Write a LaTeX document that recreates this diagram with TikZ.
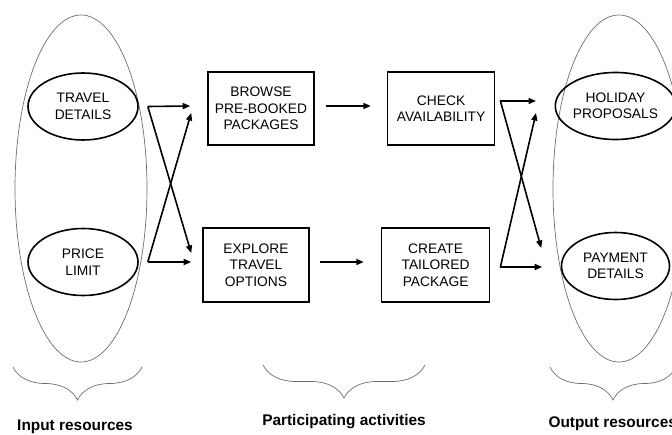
\documentclass[tikz,border=0pt]{standalone}
\usepackage{fontspec}
\setmainfont{Liberation Sans}
\usetikzlibrary{positioning,arrows.meta,shapes.geometric,decorations.pathreplacing}
\definecolor{rimgrey}{HTML}{6E6E6E}

\begin{document}
\begin{tikzpicture}[x=1pt,y=1pt, node distance=72pt, every node/.style={align=center,font=\fontsize{13.8}{16.5}\selectfont}, flow/.style={-{Triangle[length=7.5pt,width=6pt]},line width=1.6pt}, pool/.style={ellipse,draw=rimgrey,line width=.7pt,minimum width=132pt,minimum height=347pt,inner sep=0pt}, res/.style={ellipse,draw,line width=1.6pt,minimum width=110pt,minimum height=67pt,inner sep=0pt}, act/.style={rectangle,draw,line width=1.6pt,minimum width=106pt,minimum height=73pt,inner sep=0pt}, grp/.style={decorate,decoration={brace,mirror,amplitude=33pt},draw=rimgrey,line width=.7pt}, tag/.style={font=\bfseries\fontsize{15.4}{18}\selectfont}]
\path[use as bounding box,clip] (0,0) rectangle (672,434);
% resource pools
\node[pool] (inres) at (81,245.5) {};
\node[pool] (outres) at (619,245.5) {};
\node[res] (travel) at (83,327.5) {TRAVEL\\DETAILS};
\node[res] (price) at (83,172) {PRICE\\LIMIT};
\node[res,minimum width=108pt] (holiday) at (615.5,328) {HOLIDAY\\PROPOSALS};
\node[res,minimum width=108pt] (payment) at (615.5,168) {PAYMENT\\DETAILS};
% activities
\node[act] (browse) at (261,325.5) {BROWSE\\PRE-BOOKED\\PACKAGES};
\node[act,minimum width=107pt,right=of browse] (check) {CHECK\\AVAILABILITY};
\node[act,minimum height=74pt] (explore) at (256,169) {EXPLORE\\TRAVEL\\OPTIONS};
\node[act,minimum width=108pt,minimum height=74pt,right=71pt of explore] (create) {CREATE\\TAILORED\\PACKAGE};
% inputs to activities
\draw[flow] ([xshift=9pt]travel.east) -- ([xshift=-17pt,yshift=2.5pt]browse.west);
\draw[flow] ([xshift=9pt]travel.east) -- ([xshift=-11pt,yshift=12pt]explore.west);
\draw[flow] ([xshift=9pt]price.east) -- ([xshift=-11pt,yshift=3pt]explore.west);
\draw[flow] ([xshift=9pt]price.east) -- ([xshift=-16pt,yshift=-4.5pt]browse.west);
\draw[flow] ([xshift=11pt,yshift=2.5pt]browse.east) -- ([xshift=-16pt,yshift=2.5pt]check.west);
\draw[flow] ([xshift=10pt,yshift=3pt]explore.east) -- ([xshift=-17pt,yshift=3pt]create.west);
% activities to outputs
\draw[flow] ([xshift=5pt,yshift=7.5pt]check.east) -- ([xshift=-18.5pt,yshift=5pt]holiday.west);
\draw[flow] ([xshift=5pt,yshift=7.5pt]check.east) -- ([xshift=-19.5pt,yshift=18pt]payment.west);
\draw[flow] ([xshift=10pt,yshift=-2pt]create.east) -- ([xshift=-18.5pt,yshift=-1pt]payment.west);
\draw[flow] ([xshift=10pt,yshift=-2pt]create.east) -- ([xshift=-18.5pt,yshift=-7pt]holiday.west);
% braces and captions
\draw[grp] (13,67) -- (142,67);
\draw[grp] (263,69) -- (425,69);
\draw[grp] (550,67) -- (676,67);
\node[tag,anchor=base] (inlbl) at (75,4) {Input resources};
\node[tag,anchor=base] (actlbl) at (344,9) {Participating activities};
\node[tag,anchor=base west] (outlbl) at (545,7) {Output resources};
\end{tikzpicture}
\end{document}
